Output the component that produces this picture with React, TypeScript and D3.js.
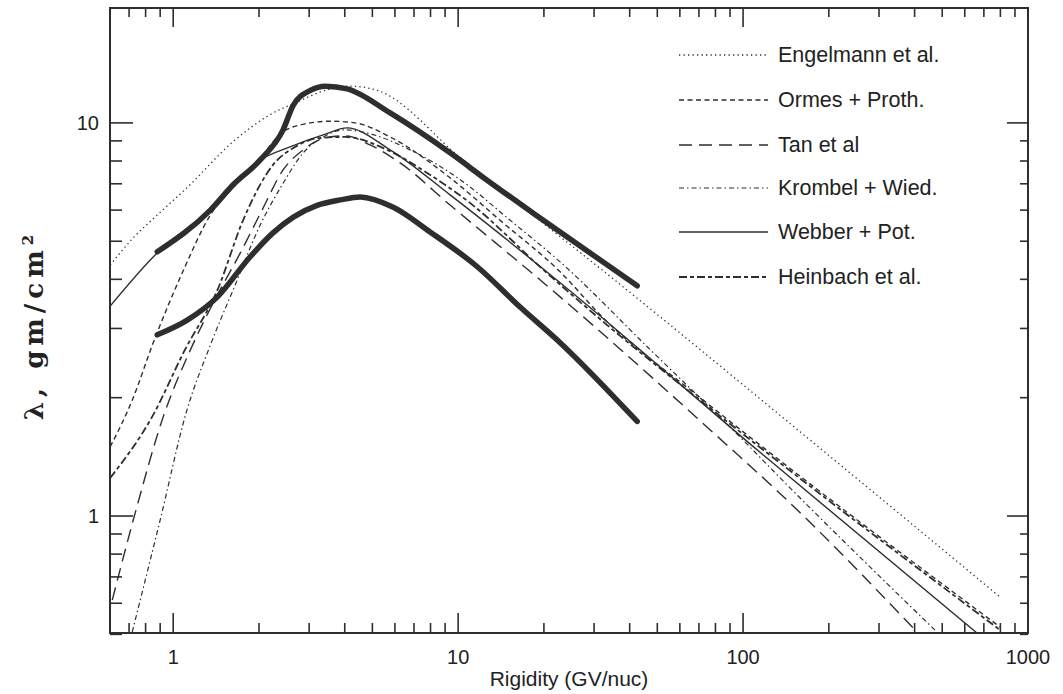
import React from "react";
import * as d3 from "d3";

// ---- Data (Rigidity GV/nuc, lambda g/cm^2) ----
const engelmannR = [0.601, 0.724, 0.879, 1.12, 1.62, 2.19, 2.72, 3.42, 4.18, 5.2, 10.2, 37.9, 155, 798];
const engelmannL = [4.35, 5.1, 5.83, 6.85, 8.95, 10.5, 11.3, 12.1, 12.4, 12.1, 8.15, 3.83, 1.66, 0.622];

const ormesR = [0.601, 0.718, 0.851, 1.08, 1.35, 1.65, 2.02, 2.43, 2.9, 3.56, 4.35, 5.77, 9.37, 14.0, 22.8, 32.3, 70.7, 121, 798];
const ormesL = [1.5, 1.97, 2.76, 4.18, 5.83, 6.95, 8.15, 9.49, 9.94, 10.1, 10.0, 9.21, 7.25, 5.66, 4.18, 3.19, 2.0, 1.47, 0.522];

const tanR = [0.611, 0.736, 0.923, 1.15, 1.4, 1.72, 2.05, 2.43, 2.86, 3.42, 4.01, 4.91, 6.26, 9.37, 22.8, 86.5, 135, 408];
const tanL = [0.611, 1.02, 1.79, 2.65, 3.55, 4.67, 6.0, 7.59, 8.54, 9.16, 9.27, 8.79, 7.91, 6.18, 3.61, 1.53, 1.14, 0.507];

const krombelR = [0.718, 0.9, 1.11, 1.35, 1.65, 2.02, 2.41, 2.86, 3.36, 4.01, 4.91, 6.78, 10.2, 15.2, 22.8, 47.2, 100, 135, 479];
const krombelL = [0.507, 0.977, 1.83, 2.72, 3.87, 5.5, 6.95, 8.39, 9.21, 9.6, 9.38, 8.54, 7.16, 5.66, 4.43, 2.65, 1.56, 1.25, 0.507];

const webberR = [0.601, 0.879, 1.35, 2.02, 2.57, 3.36, 4.08, 5.77, 9.37, 22.8, 115, 662];
const webberL = [3.42, 4.67, 6.0, 8.05, 8.69, 9.32, 9.71, 8.54, 6.56, 3.92, 1.45, 0.504];

const heinbachR = [0.601, 0.844, 1.1, 1.43, 1.76, 2.24, 2.68, 3.28, 4.01, 5.63, 7.78, 11.0, 19.9, 32.3, 70.7, 121, 798];
const heinbachL = [1.25, 1.79, 2.65, 3.76, 5.66, 7.82, 8.69, 9.16, 9.21, 8.54, 7.46, 6.26, 4.23, 3.12, 1.97, 1.45, 0.513];

const upperR = [0.879, 1.35, 1.62, 2.02, 2.43, 2.64, 3.03, 3.42, 4.08, 5.77, 9.37, 12.6, 18.3, 42.5];
const upperL = [4.7, 6.0, 6.95, 8.05, 9.6, 11.1, 12.1, 12.4, 12.2, 10.6, 8.39, 7.16, 5.9, 3.85];

const lowerR = [0.879, 1.12, 1.43, 1.86, 2.24, 2.64, 3.2, 3.86, 4.53, 5.92, 7.97, 11.7, 16.5, 22.8, 42.5];
const lowerL = [2.89, 3.15, 3.61, 4.56, 5.25, 5.76, 6.17, 6.37, 6.48, 6.1, 5.28, 4.3, 3.4, 2.76, 1.74];

const seriesNames = ["Engelmann et al.", "Ormes + Proth.", "Tan et al", "Krombel + Wied.", "Webber + Pot.", "Heinbach et al."];

const xMajor = [1, 10, 100, 1000];
const xMajorLabels = ["1", "10", "100", "1000"];
const yMajor = [1, 10];
const yMajorLabels = ["1", "10"];

const styles: { dash: string; w: number }[] = [
  { dash: "1.3 3.2", w: 1.3 },
  { dash: "5 3.5", w: 1.4 },
  { dash: "13 7", w: 1.4 },
  { dash: "5 3 1.5 3", w: 1.2 },
  { dash: "", w: 1.4 },
  { dash: "8 3 4 3", w: 1.8 },
];

const INK = "#2e2e2e";

export default function App() {
  const W = 1063, H = 694;
  const L = 110, R = 1028, T = 8, B = 633;
  const x = d3.scaleLog().domain([0.6, 1000]).range([L, R]);
  const y = d3.scaleLog().domain([0.504, 19.6]).range([B, T]);

  const line = d3
    .line<[number, number]>()
    .x((d) => x(d[0]))
    .y((d) => y(d[1]))
    .curve(d3.curveMonotoneX);

  const zip = (a: number[], b: number[]) => a.map((v, i) => [v, b[i]] as [number, number]);

  const series = [
    zip(engelmannR, engelmannL),
    zip(ormesR, ormesL),
    zip(tanR, tanL),
    zip(krombelR, krombelL),
    zip(webberR, webberL),
    zip(heinbachR, heinbachL),
  ];

  // ticks
  const xMinor: number[] = [];
  [0.1, 1, 10, 100].forEach((dec) => {
    for (let k = 2; k <= 9; k++) {
      const v = dec * k;
      if (v >= 0.6 && v < 1000 && !xMajor.includes(v)) xMinor.push(v);
    }
  });
  const yMinor: number[] = [];
  [0.1, 1, 10].forEach((dec) => {
    for (let k = 2; k <= 9; k++) {
      const v = dec * k;
      if (v >= 0.5 && v <= 19.6 && !yMajor.includes(v)) yMinor.push(v);
    }
  });

  const legendY = [55, 100, 145, 188, 232, 277];

  return (
    <svg
      width={W}
      height={H}
      style={{ position: "absolute", left: 0, top: 0, background: "#fff" }}
      fontFamily="'Liberation Sans', Arial, Helvetica, sans-serif"
    >
      <defs>
        <clipPath id="plot">
          <rect x={L} y={T} width={R - L} height={B - T} />
        </clipPath>
      </defs>
      <rect x={0} y={0} width={W} height={H} fill="#fff" />

      {/* curves */}
      <g clipPath="url(#plot)" fill="none" stroke={INK}>
        <path d={line(zip(upperR, upperL)) || ""} strokeWidth={5.5} strokeLinecap="round" strokeLinejoin="round" />
        <path d={line(zip(lowerR, lowerL)) || ""} strokeWidth={5.5} strokeLinecap="round" strokeLinejoin="round" />
        {series.map((s, i) => (
          <path
            key={i}
            d={line(s) || ""}
            strokeWidth={styles[i].w}
            strokeDasharray={styles[i].dash || undefined}
          />
        ))}
      </g>

      {/* frame */}
      <rect x={L} y={T} width={R - L} height={B - T} fill="none" stroke={INK} strokeWidth={2} />

      {/* ticks */}
      <g stroke={INK} strokeWidth={1.6}>
        {xMajor.map((v) => (
          <g key={"xm" + v}>
            <line x1={x(v)} x2={x(v)} y1={B} y2={B - 20} />
            <line x1={x(v)} x2={x(v)} y1={T} y2={T + 19} />
          </g>
        ))}
        {xMinor.map((v) => (
          <g key={"xn" + v}>
            <line x1={x(v)} x2={x(v)} y1={B} y2={B - 10} />
            <line x1={x(v)} x2={x(v)} y1={T} y2={T + 9} />
          </g>
        ))}
        {yMajor.map((v) => (
          <g key={"ym" + v}>
            <line x1={L} x2={L + 23} y1={y(v)} y2={y(v)} />
            <line x1={R} x2={R - 21} y1={y(v)} y2={y(v)} />
          </g>
        ))}
        {yMinor.map((v) => (
          <g key={"yn" + v}>
            <line x1={L} x2={L + 12} y1={y(v)} y2={y(v)} />
            <line x1={R} x2={R - 8} y1={y(v)} y2={y(v)} />
          </g>
        ))}
      </g>

      {/* tick labels */}
      <g fill="#222" fontSize={20}>
        {xMajor.map((v, i) => (
          <text key={"xl" + v} x={x(v)} y={664} textAnchor="middle">
            {xMajorLabels[i]}
          </text>
        ))}
        {yMajor.map((v, i) => (
          <text key={"yl" + v} x={99} y={y(v) + 7} textAnchor="end">
            {yMajorLabels[i]}
          </text>
        ))}
      </g>

      {/* axis titles */}
      <text x={569} y={686} textAnchor="middle" fontSize={21} fill="#222">
        Rigidity (GV/nuc)
      </text>
      <text
        transform="translate(43,325) rotate(-90)"
        textAnchor="middle"
        fontSize={26}
        fontWeight="bold"
        fontFamily="'DejaVu Serif', 'Liberation Serif', serif"
        fill="#222"
        letterSpacing={5}
      >
        λ, gm/cm<tspan dy={-10} fontSize={15}>2</tspan>
      </text>

      {/* legend */}
      <g>
        {seriesNames.map((n, i) => (
          <g key={n}>
            <line
              x1={679}
              x2={768}
              y1={legendY[i]}
              y2={legendY[i]}
              stroke={INK}
              strokeWidth={styles[i].w}
              strokeDasharray={styles[i].dash || undefined}
            />
            <text x={778} y={legendY[i] + 7} fontSize={21.5} fill="#222">
              {n}
            </text>
          </g>
        ))}
      </g>
    </svg>
  );
}
